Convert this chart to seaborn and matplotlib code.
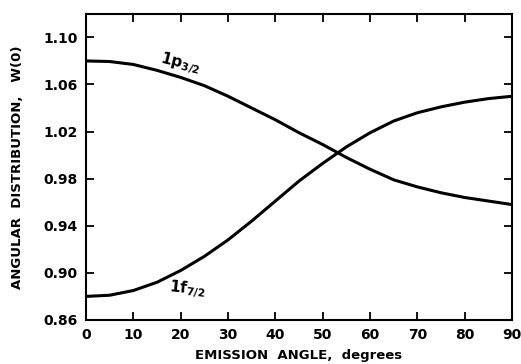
import matplotlib
matplotlib.use("Agg")
import matplotlib.pyplot as plt
import seaborn as sns
import pandas as pd

angle = [0, 5, 10, 15, 20, 25, 30, 35, 40, 45, 50, 55, 60, 65, 70, 75, 80, 85, 90]
w_p32 = [1.080, 1.0795, 1.077, 1.072, 1.066, 1.059, 1.050, 1.040, 1.030, 1.019,
         1.009, 0.998, 0.988, 0.979, 0.973, 0.968, 0.964, 0.961, 0.958]
w_f72 = [0.880, 0.881, 0.885, 0.892, 0.902, 0.914, 0.928, 0.944, 0.961, 0.978,
         0.993, 1.007, 1.019, 1.029, 1.036, 1.041, 1.045, 1.048, 1.050]
xticks = [0, 10, 20, 30, 40, 50, 60, 70, 80, 90]
yticks = [0.86, 0.90, 0.94, 0.98, 1.02, 1.06, 1.10]

df = pd.concat([
    pd.DataFrame({"angle": angle, "W": w_p32, "state": "p32"}),
    pd.DataFrame({"angle": angle, "W": w_f72, "state": "f72"}),
])

sns.set_theme(style="ticks")
plt.rcParams["font.family"] = ["DejaVu Sans"]
plt.rcParams["mathtext.default"] = "regular"
plt.rcParams["text.color"] = "black"
plt.rcParams["axes.labelcolor"] = "black"
fig = plt.figure(figsize=(5.21, 3.64), dpi=100)
ax = fig.add_axes([0.165, 0.121, 0.818, 0.841])
sns.lineplot(data=df, x="angle", y="W", hue="state", palette=["black", "black"],
             linewidth=2.2, legend=False, ax=ax)
ax.set_xlim(0, 90)
ax.set_ylim(0.86, 1.12)
ax.set_xticks(xticks)
ax.set_yticks(yticks)
ax.set_xticklabels([str(t) for t in xticks])
ax.set_yticklabels([f"{t:.2f}" for t in yticks])
ax.tick_params(direction="in", length=6, width=1.3, top=True, right=True,
               labelsize=10, pad=6, colors="black")
for lbl in ax.get_xticklabels() + ax.get_yticklabels():
    lbl.set_fontweight("bold")
for s in ax.spines.values():
    s.set_linewidth(1.5)
    s.set_color("black")
ax.set_xlabel("EMISSION  ANGLE,  degrees", fontsize=9.5, fontweight="bold", labelpad=5)
ax.set_ylabel("ANGULAR  DISTRIBUTION,   W(0)", fontsize=9.5, fontweight="bold", labelpad=14)
ax.text(15.5, 1.0785, r"1p$_{3/2}$", fontsize=11, fontweight="bold", rotation=-14,
        va="baseline", rotation_mode="anchor")
ax.text(17.5, 0.8845, r"1f$_{7/2}$", fontsize=11, fontweight="bold", rotation=-6,
        va="baseline", rotation_mode="anchor")
fig.savefig("out.png", dpi=100)
